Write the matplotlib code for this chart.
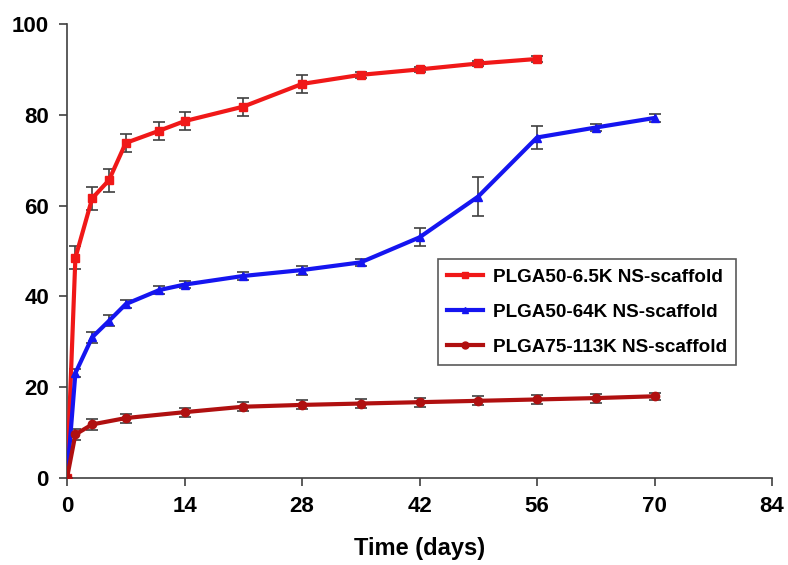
import matplotlib
matplotlib.use("Agg")
import matplotlib.pyplot as plt
from matplotlib.lines import Line2D

plt.rcParams['font.family'] = ['Liberation Sans', 'DejaVu Sans']
plt.rcParams['font.weight'] = 'bold'

days_a = [0, 1, 3, 5, 7, 11, 14, 21, 28, 35, 42, 49, 56]
rel_a = [0, 48.5, 61.6, 65.6, 73.8, 76.5, 78.6, 81.8, 86.8, 88.8, 90.0, 91.3, 92.3]
err_a = [0, 2.5, 2.5, 2.5, 2.0, 2.0, 2.0, 2.0, 2.0, 0.6, 0.6, 0.6, 0.6]

days_b = [0, 1, 3, 5, 7, 11, 14, 21, 28, 35, 42, 49, 56, 63, 70]
rel_b = [0, 23.1, 31.0, 34.6, 38.3, 41.4, 42.6, 44.5, 45.8, 47.5, 53.0, 62.0, 75.0, 77.2, 79.3]
err_b = [0, 0.8, 1.2, 1.2, 0.8, 0.8, 0.8, 0.8, 1.0, 0.8, 2.0, 4.2, 2.5, 0.8, 0.8]

days_c = [0, 1, 3, 7, 14, 21, 28, 35, 42, 49, 56, 63, 70]
rel_c = [0, 9.6, 11.8, 13.2, 14.5, 15.7, 16.1, 16.4, 16.7, 17.0, 17.3, 17.6, 18.0]
err_c = [0, 1.2, 1.2, 1.0, 1.0, 1.0, 1.0, 1.0, 1.0, 1.0, 1.0, 1.0, 0.8]

labels = ['PLGA50-6.5K NS-scaffold', 'PLGA50-64K NS-scaffold', 'PLGA75-113K NS-scaffold']
colors = ['#f01818', '#1515f0', '#b01010']
markers = ['s', '^', 'o']

x_ticks = [0, 14, 28, 42, 56, 70, 84]
y_ticks = [0, 20, 40, 60, 80, 100]

fig = plt.figure(figsize=(7.88, 5.65), dpi=100)
ax = fig.add_axes([67/788, 1 - 478/565, (772-67)/788, (478-24)/565])

handles = []
for d, r, e, c, m, lab in zip([days_a, days_b, days_c], [rel_a, rel_b, rel_c],
                              [err_a, err_b, err_c], colors, markers, labels):
    ax.errorbar(d, r, yerr=e, color=c, marker=m, markersize=6, linewidth=3,
                ecolor='#404040', elinewidth=1.2, capsize=4, capthick=1.2,
                zorder=3)
    handles.append(Line2D([], [], color=c, marker=m, markersize=5, linewidth=3, label=lab))

ax.set_xlim(0, 84)
ax.set_ylim(0, 100)
ax.set_xticks(x_ticks)
ax.set_yticks(y_ticks)
ax.spines['top'].set_visible(False)
ax.spines['right'].set_visible(False)
for s in ['left', 'bottom']:
    ax.spines[s].set_color('#404040')
    ax.spines[s].set_linewidth(1.2)
ax.tick_params(direction='out', length=6, width=1.2, color='#404040', labelsize=16, pad=7)
for t in ax.get_xticklabels() + ax.get_yticklabels():
    t.set_fontweight('bold')
ax.set_xlabel('Time (days)', fontsize=17, fontweight='bold', labelpad=14)

leg = ax.legend(handles=handles, loc='upper left',
                bbox_to_anchor=((438-67)/705, (478-259)/454), borderaxespad=0,
                fontsize=13.6, frameon=True, fancybox=False, edgecolor='#303030',
                handlelength=1.9, handletextpad=0.5, borderpad=0.5, labelspacing=0.95)
leg.get_frame().set_linewidth(1.2)
for t in leg.get_texts():
    t.set_fontweight('bold')

fig.savefig('out.png', dpi=100)
